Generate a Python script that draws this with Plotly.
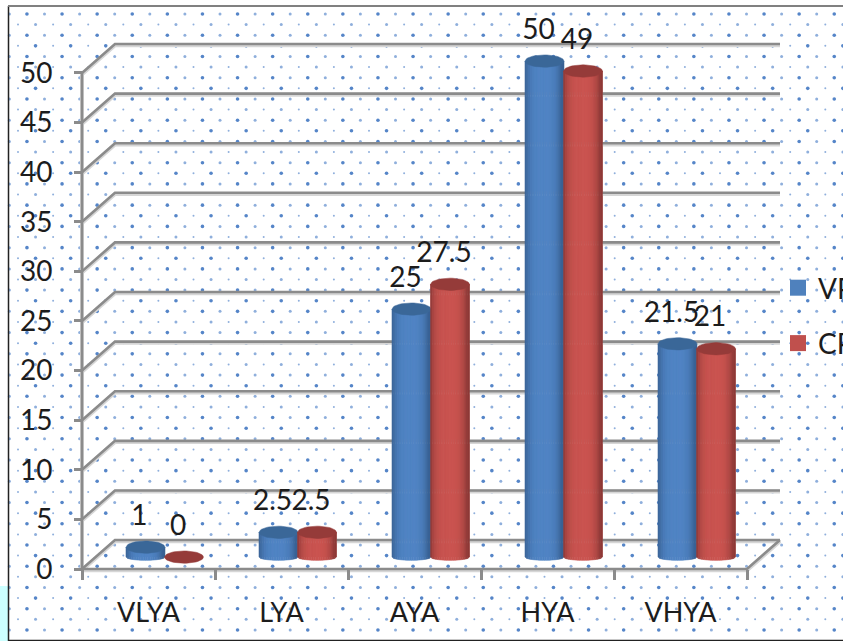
import numpy as np
import plotly.graph_objects as go

categories = ["VLYA", "LYA", "AYA", "HYA", "VHYA"]
vp_values = [1, 2.5, 25, 50, 21.5]
cp_values = [0, 2.5, 27.5, 49, 21]
y_ticks = [0, 5, 10, 15, 20, 25, 30, 35, 40, 45, 50]

W, H = 843, 641
FONT = "Lato"
TXT = "#1c1c1c"
GRID = "#8b8b8b"

# pseudo-3D geometry in axis units
DX, DY = 0.248, 2.92      # depth of the back wall
BASE = 1.2                # bars stand in the middle of the floor
BAR_W = 0.2925
RY = 0.62
RY_BOTTOM = 0.32
SHIFT = [-0.0226, 0.267]  # bar centre relative to category centre
LBL_DX, LBL_DY = -0.045, 2.95

BLUE = dict(edge=(56, 96, 146), mid=(80, 132, 196), top="#3a6798", name="VP", swatch="#4f81bd")
RED = dict(edge=(142, 58, 56), mid=(202, 84, 80), top="#953b39", name="CP", swatch="#c0504d")


def mix(a, b, t):
    return "rgb(%d,%d,%d)" % tuple(round(a[i] + (b[i] - a[i]) * t) for i in range(3))


fig = go.Figure()

# dotted page background (pixel subplot underneath everything)
groups = {"b": [], "m": [], "s": []}
for r in range(60):
    yy = 14 + r * 10.62
    kind = r % 4
    x0 = 9.4 if kind in (0, 2) else 18
    for c in range(50):
        xx = x0 + c * 17.55
        if kind in (0, 2):
            g = "m" if c % 2 == 0 else "b"
        elif kind == 1:
            g = "s" if c % 2 == 0 else "m"
        else:
            g = "s" if c % 2 == 0 else "b"
        if xx < 843 and yy < 640:
            groups[g].append((xx, yy))
for g, size, col in (("b", 3.6, "#5585c8"), ("m", 3.0, "#8fafdc"), ("s", 2.0, "#8fafdc")):
    pts = np.array(groups[g])
    fig.add_trace(go.Scatter(x=pts[:, 0], y=pts[:, 1], mode="markers", xaxis="x", yaxis="y",
                             marker=dict(size=size, color=col, line=dict(width=0)),
                             hoverinfo="skip", showlegend=False))

# walls: grid lines on the back wall and their diagonals to the value axis
gx, gy = [], []
for v in y_ticks:
    gx += [-0.5, -0.5 + DX, 4.5 + DX, None]
    gy += [v, v + DY, v + DY, None]
gx += [-0.5, -0.5, None, -0.5, 4.5, 4.5 + DX, None]
gy += [0, 50, None, 0, 0, DY, None]
fig.add_trace(go.Scatter(x=gx, y=[None if q is None else q - 0.12 for q in gy], mode="lines",
                         xaxis="x2", yaxis="y2", line=dict(color="#d6d6d6", width=4),
                         hoverinfo="skip", showlegend=False))
fig.add_trace(go.Scatter(x=gx, y=gy, mode="lines", xaxis="x2", yaxis="y2",
                         line=dict(color=GRID, width=2.6), hoverinfo="skip", showlegend=False))

idx = np.arange(len(categories))
N = 22
for s, (vals, st) in enumerate(((vp_values, BLUE), (cp_values, RED))):
    vals = np.array(vals, float)
    centers = idx + SHIFT[s]
    fig.add_trace(go.Bar(x=centers, y=vals, base=[BASE] * len(vals), width=BAR_W, xaxis="x2", yaxis="y2",
                         name=st["name"], marker=dict(color=st["swatch"], line=dict(width=0)),
                         hoverinfo="x+y", showlegend=False))
    # cylinder shading: vertical strips with an elliptical lower edge
    edges = np.linspace(-1, 1, N + 1)
    for k in range(N):
        u0, u1 = edges[k], edges[k + 1]
        um = (u0 + u1) / 2
        t = 1 - min(abs(um + 0.05) / 0.95, 1) ** 3.4
        px, py = [], []
        for c, v in zip(centers, vals):
            if v <= 0:
                continue
            x0, x1 = c + u0 * BAR_W / 2, c + u1 * BAR_W / 2
            b0, b1 = RY_BOTTOM * np.sqrt(1 - u0 ** 2), RY_BOTTOM * np.sqrt(1 - u1 ** 2)
            d0, d1 = RY * np.sqrt(1 - u0 ** 2), RY * np.sqrt(1 - u1 ** 2)
            px += [x0, x1, x1, x0, x0, None]
            py += [BASE - b0, BASE - b1, BASE + v - d1, BASE + v - d0, BASE - b0, None]
        col = mix(st["edge"], st["mid"], t)
        fig.add_trace(go.Scatter(x=px, y=py, mode="lines", fill="toself", fillcolor=col,
                                 line=dict(color=col, width=0.6), xaxis="x2", yaxis="y2",
                                 hoverinfo="skip", showlegend=False))
    # top caps
    th = np.linspace(0, 2 * np.pi, 49)
    px, py = [], []
    for c, v in zip(centers, vals):
        px += list(c + BAR_W / 2 * np.cos(th)) + [None]
        py += list(BASE + v + RY * np.sin(th)) + [None]
    fig.add_trace(go.Scatter(x=px, y=py, mode="lines", fill="toself", fillcolor=st["top"],
                             line=dict(color=st["top"], width=0.5), xaxis="x2", yaxis="y2",
                             hoverinfo="skip", showlegend=False))

# data labels
for s, vals in enumerate((vp_values, cp_values)):
    fig.add_trace(go.Scatter(x=idx + SHIFT[s] + LBL_DX, y=np.array(vals, float) + BASE + LBL_DY,
                             text=[str(v) for v in vals], mode="text", textposition="middle center",
                             textfont=dict(family=FONT, size=28, color=TXT), cliponaxis=False,
                             xaxis="x2", yaxis="y2", hoverinfo="skip", showlegend=False))

# legend entries
for st in (BLUE, RED):
    fig.add_trace(go.Scatter(x=[None], y=[None], mode="markers", name=st["name"], xaxis="x2", yaxis="y2",
                             legendgroup=st["name"],
                             marker=dict(symbol="square", size=16, color=st["swatch"])))

# page frame
shapes = [
    dict(type="rect", xref="paper", yref="paper", x0=0, x1=8 / W, y0=0, y1=(H - 586) / H,
         fillcolor="#ccffff", line_width=0, layer="below"),
    dict(type="line", xref="paper", yref="paper", x0=8.5 / W, x1=8.5 / W, y0=0, y1=(H - 6) / H,
         line=dict(color="#222222", width=1.5), layer="above"),
    dict(type="line", xref="paper", yref="paper", x0=8 / W, x1=1, y0=(H - 6) / H, y1=(H - 6) / H,
         line=dict(color="#808080", width=2), layer="above"),
    dict(type="line", xref="paper", yref="paper", x0=8 / W, x1=1, y0=0.5 / H, y1=0.5 / H,
         line=dict(color="#222222", width=1.5), layer="above"),
]

fig.update_layout(
    width=W, height=H, autosize=False,
    margin=dict(l=0, r=0, t=0, b=0, autoexpand=False),
    paper_bgcolor="white", plot_bgcolor="rgba(0,0,0,0)",
    barmode="overlay", shapes=shapes,
    xaxis=dict(domain=[0, 1], range=[0, W], visible=False, fixedrange=True),
    yaxis=dict(domain=[0, 1], range=[H, 0], visible=False, fixedrange=True),
    xaxis2=dict(domain=[68.7 / W, 786.9 / W], range=[-0.6, 4.8], anchor="free", position=(H - 569) / H,
                tickmode="array", tickvals=list(idx), ticktext=categories, ticks="", showline=False,
                showgrid=False, zeroline=False, ticklabelstandoff=25,
                tickfont=dict(family=FONT, size=27, color=TXT),
                minor=dict(tickmode="array", tickvals=[-0.5, 0.5, 1.5, 2.5, 3.5, 4.5], ticks="outside",
                           ticklen=10, tickwidth=2.6, tickcolor=GRID, showgrid=False)),
    yaxis2=dict(domain=[(H - 580.9) / H, (H - 21.4) / H], range=[-1.2, 55.2], anchor="free", position=82 / W,
                tickmode="array", tickvals=y_ticks, ticks="outside", ticklen=8, tickwidth=2.6, tickcolor=GRID,
                showline=False, showgrid=False, zeroline=False, ticklabelstandoff=16,
                tickfont=dict(family=FONT, size=28, color=TXT)),
    legend=dict(x=778 / W, y=(H - 263) / H, xanchor="left", yanchor="top", bgcolor="rgba(0,0,0,0)",
                font=dict(family=FONT, size=28, color=TXT), tracegroupgap=16, itemwidth=30),
    showlegend=True,
)

fig.write_html("out.html", config=dict(displayModeBar=False),
               post_script="document.body.style.margin='0';document.body.style.overflow='hidden';")
